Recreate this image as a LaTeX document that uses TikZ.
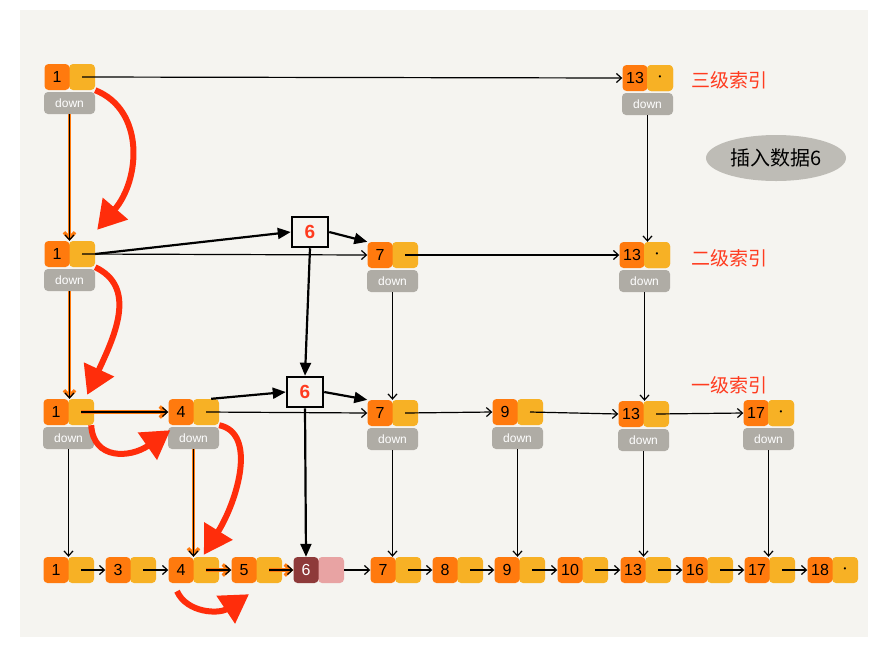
\documentclass[tikz,border=0pt]{standalone}
\usepackage{fontspec}
\setmainfont{Liberation Sans}
\newfontfamily\cjk{Noto Sans CJK SC}
\usetikzlibrary{positioning,arrows.meta,shapes.geometric}

\definecolor{bgcol}{HTML}{F5F4F0}
\definecolor{keyorange}{HTML}{FF7A0E}
\definecolor{nxtyellow}{HTML}{F7B125}
\definecolor{dngray}{HTML}{AFACA5}
\definecolor{blobgray}{HTML}{BEBCB6}
\definecolor{findred}{HTML}{FF2D0B}
\definecolor{lvlred}{HTML}{FF3B1F}
\definecolor{newred}{HTML}{8E3A3A}
\definecolor{newpink}{HTML}{E8A3A3}

\tikzset{
  key/.style={fill=keyorange, rounded corners=4pt, minimum width=25pt, minimum height=26pt,
    inner sep=0pt, font=\fontsize{16}{16}\selectfont},
  nxt/.style={fill=nxtyellow, rounded corners=4pt, minimum width=26pt, minimum height=26pt,
    inner sep=0pt, font=\fontsize{8}{8}\selectfont},
  dn/.style={fill=dngray, rounded corners=4pt, minimum width=51pt, minimum height=22pt,
    inner sep=0pt, text=white, font=\fontsize{12}{12}\selectfont},
  newbox/.style={draw=black, line width=2.5pt, minimum width=36pt, minimum height=30pt,
    inner sep=0pt, text=lvlred, font=\fontsize{19}{19}\selectfont\bfseries},
  lvl/.style={anchor=west, text=lvlred, font=\fontsize{19}{19}\selectfont\cjk},
  nxtarrow/.style={-{Straight Barb[length=5pt,width=9pt]}, line width=1.2pt},
  newarrow/.style={-{Triangle[length=13pt,width=11pt]}, line width=2.2pt},
  trail/.style={draw=keyorange, line width=3.5pt, -{Straight Barb[length=6pt,width=11pt]}},
  findarrow/.style={draw=findred, line width=6pt, -{Triangle[length=28pt,width=32pt]}}
}

% index node: name, x, y, key
\newcommand{\idxnode}[4]{%
  \node[nxt] (#1n) at (#2+25,#3) {};
  \node[key] (#1) at (#2,#3) {#4};
  \node[dn] (#1d) at (#2+12.5,#3+26) {down};
}

\begin{document}
\begin{tikzpicture}[x=1pt, y=-1pt]
  \fill[white] (0,0) rectangle (882,646);
  \fill[bgcol] (20,10) rectangle (868,637);

  % level 3
  \idxnode{l3a}{57}{77}{1}
  \idxnode{l3b}{635}{78}{13}
  \node[nxt] at (l3bn) {\textbullet};
  \node[lvl] (lab3) at (688,80) {三级索引};

  % level 2
  \idxnode{l2a}{57}{254}{1}
  \idxnode{l2b}{380}{255}{7}
  \idxnode{l2c}{632}{255}{13}
  \node[nxt] at (l2cn) {\textbullet};
  \node[lvl] (lab2) at (688,258) {二级索引};

  % level 1
  \idxnode{l1a}{56}{412}{1}
  \idxnode{l1b}{181}{412}{4}
  \idxnode{l1c}{380}{413}{7}
  \idxnode{l1d}{505}{412}{9}
  \idxnode{l1e}{631}{414}{13}
  \idxnode{l1f}{756}{413}{17}
  \node[nxt] at (l1fn) {\textbullet};
  \node[lvl] (lab1) at (688,385) {一级索引};

  % bottom list
  \foreach \k/\x in {1/56,3/118,4/181,5/244,7/383,8/445,9/507,10/570,13/633,16/695,17/757} {
    \node[nxt] (nb\k) at (\x+25,570) {};
    \node[key] (b\k) at (\x,570) {\k};
  }
  \node[nxt] (nb18) at (845,570) {\textbullet};
  \node[key] (b18) at (820,570) {18};
  \node[nxt, fill=newpink] (nb6) at (331,570) {};
  \node[key, fill=newred, text=white] (b6) at (306,570) {6};

  % new element 6
  \node[newbox] (s2) at (310,232) {6};
  \node[newbox] (s1) at (305,392) {6};

  \node[ellipse, fill=blobgray, minimum width=140pt, minimum height=46pt,
    font=\fontsize{20}{20}\selectfont\cjk] (tag) at (776,158) {插入数据6};

  % search trail
  \draw[trail] (l3ad.south) -- (l3ad.south |- l2a.north);
  \draw[trail] (l2ad.south) -- (l2ad.south |- l1a.north);
  \draw[trail] (l1an.center) -- (l1b.west);
  \draw[trail] (l1bd.south) -- (l1bd.south |- b4.north);
  \draw[trail] (nb4.center) -- (b5.west);
  \draw[trail] (nb5.center) -- (b6.west);

  % next pointers
  \draw[nxtarrow] (l3an.center) -- (l3b.west);
  \draw[nxtarrow] (l2an.center) -- (l2b.west);
  \draw[nxtarrow] (l2bn.center) -- (l2c.west);
  \draw[nxtarrow] (l1an.center) -- (l1b.west);
  \draw[nxtarrow] (l1bn.center) -- (l1c.west);
  \draw[nxtarrow] (l1cn.center) -- (l1d.west);
  \draw[nxtarrow] (l1dn.center) -- (l1e.west);
  \draw[nxtarrow] (l1en.center) -- (l1f.west);
  \foreach \a/\b in {1/3,3/4,4/5,5/6,7/8,8/9,9/10,10/13,13/16,16/17,17/18}
    \draw[nxtarrow] (nb\a.center) -- (b\b.west);
  \draw[nxtarrow] (nb6.east) -- (b7.west);

  % down pointers
  \draw[nxtarrow] (l3ad.south) -- (l3ad.south |- l2a.north);
  \draw[nxtarrow] (l3bd.south) -- (l3bd.south |- l2c.north);
  \draw[nxtarrow] (l2ad.south) -- (l2ad.south |- l1a.north);
  \draw[nxtarrow] (l2bd.south) -- (l2bd.south |- l1c.north);
  \draw[nxtarrow] (l2cd.south) -- (l2cd.south |- l1e.north);
  \draw[nxtarrow] (l1ad.south) -- (l1ad.south |- b1.north);
  \draw[nxtarrow] (l1bd.south) -- (l1bd.south |- b4.north);
  \draw[nxtarrow] (l1cd.south) -- (l1cd.south |- b7.north);
  \draw[nxtarrow] (l1dd.south) -- (l1dd.south |- b9.north);
  \draw[nxtarrow] (l1ed.south) -- (l1ed.south |- b13.north);
  \draw[nxtarrow] (l1fd.south) -- (l1fd.south |- b17.north);

  % insert links
  \draw[newarrow] (l2an.east) -- (s2.west);
  \draw[newarrow] (s2.east) -- (l2b.north west);
  \draw[newarrow] (s2.south) -- (s1.north);
  \draw[newarrow] ([shift={(-8,0)}]l1bn.north east) -- (s1.west);
  \draw[newarrow] (s1.east) -- (l1c.north west);
  \draw[newarrow] (s1.south) -- (b6.north);

  % red search path
  \draw[findarrow] (l3an.south east) .. controls +(50,20) and +(43,-50) .. ([shift={(2,-11)}]l2an.north east);
  \draw[findarrow] (l2an.south east) .. controls +(42,20) and +(28,-60) .. ([shift={(-7,-4)}]l1an.north east);
  \draw[findarrow] ([shift={(-3,0)}]l1an.south east) .. controls +(2,35) and +(-40,28) .. ([shift={(2,5)}]l1b.south west);
  \draw[findarrow] (l1bn.south east) .. controls +(38,8) and +(34,-55) .. ([shift={(11,-2)}]nb4.north west);
  \draw[findarrow] ([shift={(-4,8)}]b4.south) .. controls +(10,22) and +(-30,20) .. ([shift={(5,11)}]b5.south);
\end{tikzpicture}
\end{document}
